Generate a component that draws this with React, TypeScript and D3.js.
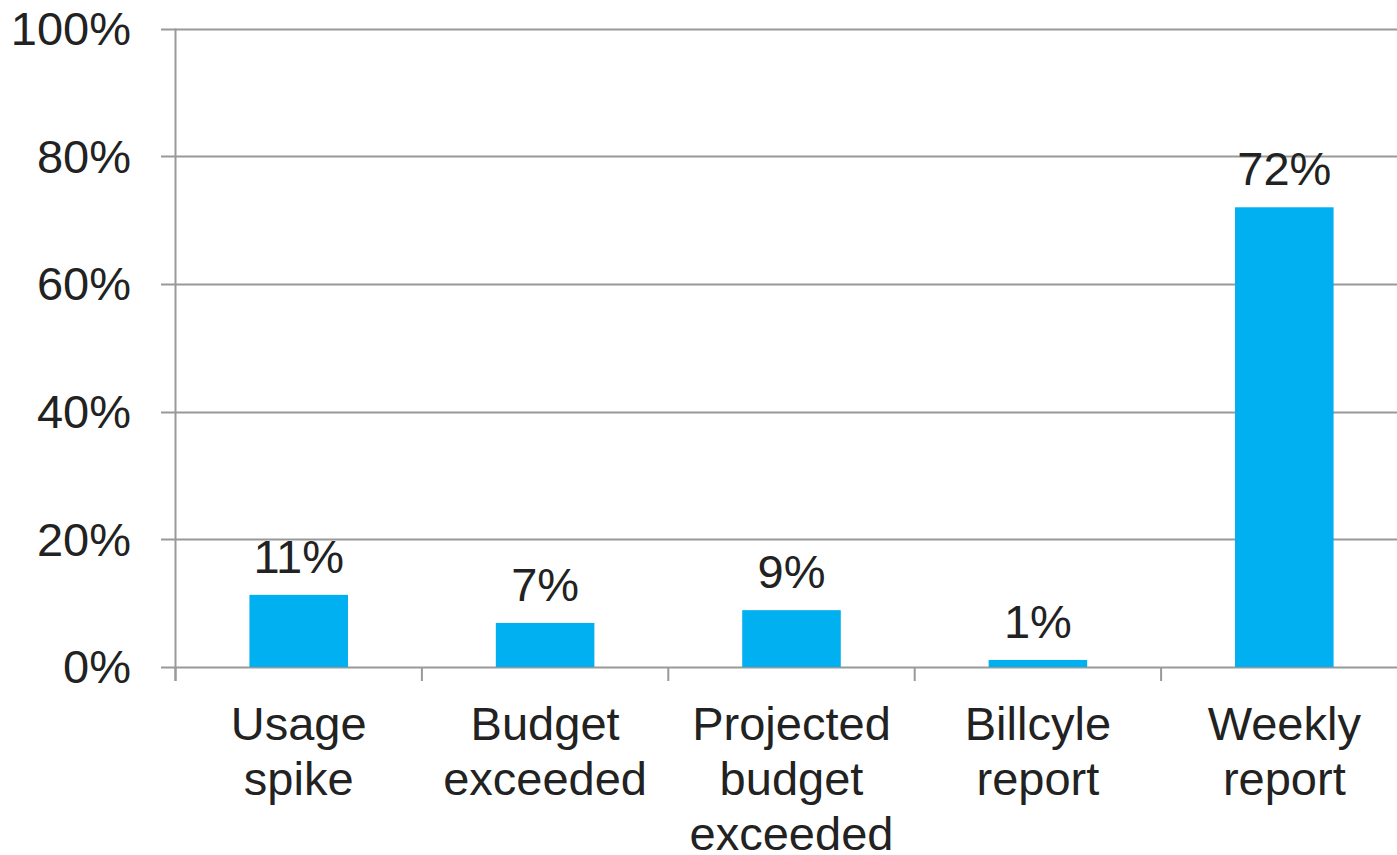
import React from "react";
import * as d3 from "d3";

const categories: string[][] = [
  ["Usage", "spike"],
  ["Budget", "exceeded"],
  ["Projected", "budget", "exceeded"],
  ["Billcyle", "report"],
  ["Weekly", "report"],
];
const values: number[] = [11.3, 6.9, 8.9, 1.1, 72.0];
const valueLabels: string[] = ["11%", "7%", "9%", "1%", "72%"];
const yTicks: number[] = [0, 20, 40, 60, 80, 100];

const W = 1397;
const H = 855;
const left = 175.5;
const right = 1407.5;
const top = 28.5;
const bottom = 667;
const font = "'Liberation Sans', Arial, sans-serif";
const fs = 47;

export default function App() {
  const keys = categories.map((c) => c.join(" "));
  const x = d3.scaleBand<string>().domain(keys).range([left, right]).paddingInner(0.6).paddingOuter(0.3);
  const y = d3.scaleLinear().domain([0, 100]).range([bottom, top]);
  const step = x.step();
  const boundaries = d3.range(keys.length + 1).map((i) => left + i * step);

  return (
    <svg width={W} height={H} style={{ position: "absolute", left: 0, top: 0, background: "#fff" }}>
      {yTicks.map((t) => (
        <g key={t}>
          <line x1={161} x2={W} y1={Math.round(y(t)) + 0.5} y2={Math.round(y(t)) + 0.5} stroke="#999" strokeWidth={2} />
          <text x={131} y={y(t)} dy="0.35em" textAnchor="end" fontFamily={font} fontSize={fs} fill="#222">
            {t}%
          </text>
        </g>
      ))}
      <line x1={left} x2={left} y1={top} y2={bottom + 14} stroke="#999" strokeWidth={2} />
      {boundaries.map((b, i) => (
        <line key={i} x1={b} x2={b} y1={bottom} y2={bottom + 14} stroke="#999" strokeWidth={2} />
      ))}
      {keys.map((k, i) => (
        <g key={k}>
          <rect x={x(k)} y={y(values[i])} width={x.bandwidth()} height={bottom - y(values[i])} fill="#00B0F0" />
          <text
            x={(x(k) as number) + x.bandwidth() / 2}
            y={y(values[i]) - 22}
            textAnchor="middle"
            fontFamily={font}
            fontSize={fs}
            fill="#222"
          >
            {valueLabels[i]}
          </text>
          {categories[i].map((line, j) => (
            <text
              key={j}
              x={(x(k) as number) + x.bandwidth() / 2}
              y={740 + j * 55}
              textAnchor="middle"
              fontFamily={font}
              fontSize={fs}
              fill="#222"
            >
              {line}
            </text>
          ))}
        </g>
      ))}
    </svg>
  );
}
